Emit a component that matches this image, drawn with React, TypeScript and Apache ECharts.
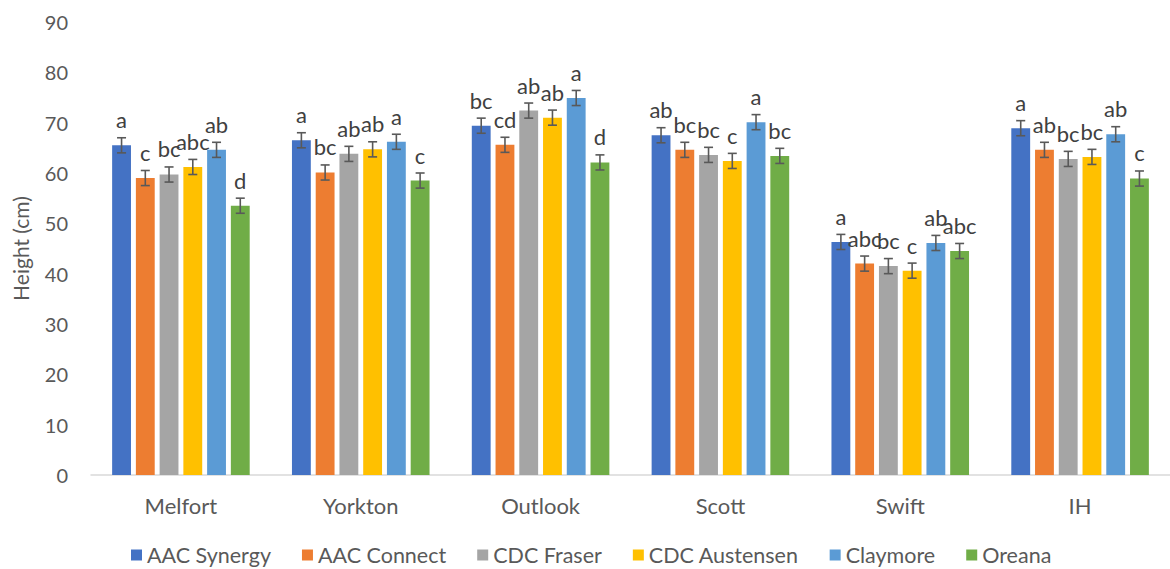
import React, { useEffect, useRef } from "react";
import * as echarts from "echarts";

const categories = ["Melfort", "Yorkton", "Outlook", "Scott", "Swift", "IH"];
const seriesNames = ["AAC Synergy", "AAC Connect", "CDC Fraser", "CDC Austensen", "Claymore", "Oreana"];
const colors = ["#4472C4", "#ED7D31", "#A5A5A5", "#FFC000", "#5B9BD5", "#70AD47"];

const aacSynergy = [65.5, 66.5, 69.4, 67.5, 46.3, 68.9];
const aacConnect = [59.0, 60.1, 65.6, 64.6, 42.0, 64.6];
const cdcFraser = [59.7, 63.8, 72.4, 63.6, 41.5, 62.8];
const cdcAustensen = [61.2, 64.7, 71.0, 62.4, 40.6, 63.2];
const claymore = [64.6, 66.2, 74.9, 70.1, 46.1, 67.7];
const oreana = [53.5, 58.5, 62.1, 63.4, 44.5, 58.9];
const values = [aacSynergy, aacConnect, cdcFraser, cdcAustensen, claymore, oreana];

const errSynergy = [1.5, 1.5, 1.5, 1.5, 1.5, 1.5];
const errConnect = [1.5, 1.5, 1.5, 1.5, 1.5, 1.5];
const errFraser = [1.5, 1.5, 1.5, 1.5, 1.5, 1.5];
const errAustensen = [1.5, 1.5, 1.5, 1.5, 1.5, 1.5];
const errClaymore = [1.5, 1.5, 1.5, 1.5, 1.5, 1.5];
const errOreana = [1.5, 1.5, 1.5, 1.5, 1.5, 1.5];
const errors = [errSynergy, errConnect, errFraser, errAustensen, errClaymore, errOreana];

const lblSynergy = ["a", "a", "bc", "ab", "a", "a"];
const lblConnect = ["c", "bc", "cd", "bc", "abc", "ab"];
const lblFraser = ["bc", "ab", "ab", "bc", "bc", "bc"];
const lblAustensen = ["abc", "ab", "ab", "c", "c", "bc"];
const lblClaymore = ["ab", "a", "a", "a", "ab", "ab"];
const lblOreana = ["d", "c", "d", "bc", "abc", "c"];
const letters = [lblSynergy, lblConnect, lblFraser, lblAustensen, lblClaymore, lblOreana];

const yTicks = [0, 10, 20, 30, 40, 50, 60, 70, 80, 90];

const FONT = "Lato, 'Open Sans', sans-serif";
const CAT_GAP = 0.235;
const BAR_GAP = 0.26;

export default function App() {
  const ref = useRef<HTMLDivElement>(null);
  useEffect(() => {
    if (!ref.current) return;
    const chart = echarts.init(ref.current, null, { renderer: "svg" });
    const N = seriesNames.length;
    const barSeries = seriesNames.map((name, si) => ({
      name,
      type: "bar",
      data: values[si],
      itemStyle: { color: colors[si] },
      barGap: BAR_GAP * 100 + "%",
      barCategoryGap: CAT_GAP * 100 + "%",
    }));
    const errSeries = seriesNames.map((name, si) => ({
      name: name + " err",
      type: "custom",
      z: 5,
      data: categories.map((_, ci) => [ci, values[si][ci], errors[si][ci]]),
      renderItem: (params: any, api: any) => {
        const ci = api.value(0);
        const v = api.value(1);
        const e = api.value(2);
        const catW = api.size([1, 0])[0];
        const barW = (catW * (1 - CAT_GAP)) / (N + (N - 1) * BAR_GAP);
        const off = (si - (N - 1) / 2) * barW * (1 + BAR_GAP);
        const top = api.coord([ci, v + e]);
        const bot = api.coord([ci, v - e]);
        const x = top[0] + off;
        const cw = 4.5;
        const st = { stroke: "#595959", lineWidth: 1.6 };
        return {
          type: "group",
          children: [
            { type: "line", shape: { x1: x, y1: top[1], x2: x, y2: bot[1] }, style: st },
            { type: "line", shape: { x1: x - cw, y1: top[1], x2: x + cw, y2: top[1] }, style: st },
            { type: "line", shape: { x1: x - cw, y1: bot[1], x2: x + cw, y2: bot[1] }, style: st },
            {
              type: "text",
              style: {
                text: letters[si][params.dataIndex],
                x,
                y: top[1] - 7,
                align: "center",
                verticalAlign: "bottom",
                fontSize: 22,
                fontFamily: FONT,
                fill: "#404040",
              },
            },
          ],
        };
      },
    }));
    chart.setOption({
      animation: false,
      grid: { left: 91, width: 1090, top: 22, bottom: 94 },
      legend: {
        data: seriesNames,
        bottom: -2,
        left: 126,
        icon: "rect",
        itemWidth: 11,
        itemHeight: 11,
        itemGap: 31,
        textStyle: { fontSize: 21.5, color: "#595959", fontFamily: FONT },
      },
      xAxis: {
        type: "category",
        data: categories,
        axisLine: { lineStyle: { color: "#d9d9d9", width: 1.5 } },
        axisTick: { show: false },
        axisLabel: { fontSize: 22, color: "#595959", fontFamily: FONT, margin: 19 },
      },
      yAxis: {
        type: "value",
        min: yTicks[0],
        max: yTicks[yTicks.length - 1],
        interval: 10,
        name: "Height (cm)",
        nameLocation: "middle",
        nameGap: 60,
        nameTextStyle: { fontSize: 21, color: "#595959", fontFamily: FONT },
        axisLine: { show: false },
        axisTick: { show: false },
        splitLine: { show: false },
        axisLabel: { fontSize: 20, color: "#595959", fontFamily: FONT, margin: 23 },
      },
      series: [...barSeries, ...errSeries],
    });
    return () => chart.dispose();
  }, []);
  return <div ref={ref} style={{ width: 1170, height: 569, position: "absolute", left: 0, top: 0 }} />;
}
